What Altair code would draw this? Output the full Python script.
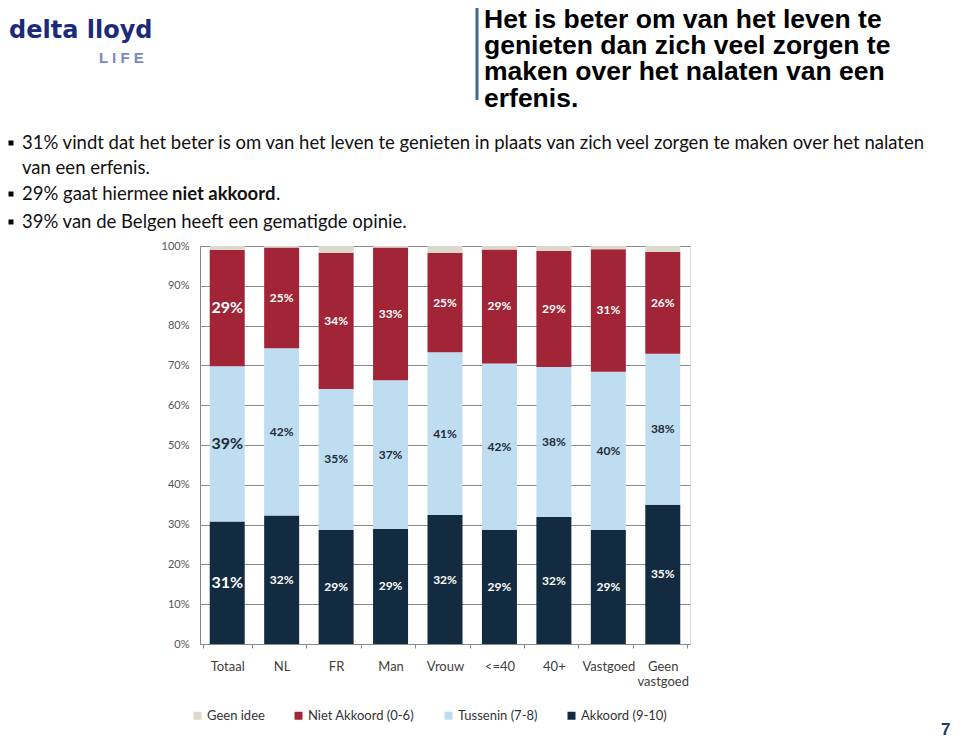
import altair as alt
import pandas as pd

# ---------------- data ----------------
cats = ["Totaal", "NL", "FR", "Man", "Vrouw", "<=40", "40+", "Vastgoed", "Geen vastgoed"]
akkoord = [30.8, 32.3, 28.7, 28.9, 32.4, 28.7, 31.9, 28.7, 35.0]
tussenin = [39.0, 42.0, 35.4, 37.4, 40.9, 41.8, 37.7, 39.7, 37.9]
niet_akkoord = [29.2, 25.3, 34.2, 33.3, 25.0, 28.6, 29.2, 30.8, 25.6]
geen_idee = [1.0, 0.4, 1.7, 0.4, 1.7, 0.9, 1.2, 0.8, 1.5]

series_names = ["Geen idee", "Niet Akkoord (0-6)", "Tussenin (7-8)", "Akkoord (9-10)"]
series_colors = ["#DDD8CC", "#A12437", "#BEDDF0", "#122B40"]
y_ticks = [0, 10, 20, 30, 40, 50, 60, 70, 80, 90, 100]

title_lines = [
    "Het is beter om van het leven te",
    "genieten dan zich veel zorgen te",
    "maken over het nalaten van een",
    "erfenis.",
]
bullet_lines = [
    "31% vindt dat het beter is om van het leven te genieten in plaats van zich veel zorgen te maken over het nalaten",
    "van een erfenis.",
]

# ---------------- table ----------------
stack = [("Akkoord (9-10)", akkoord, 1), ("Tussenin (7-8)", tussenin, 2),
         ("Niet Akkoord (0-6)", niet_akkoord, 3), ("Geen idee", geen_idee, 4)]
rows = []
for i, c in enumerate(cats):
    cum = 0.0
    for name, vals, o in stack:
        v = vals[i]
        rows.append(dict(
            cat=c, series=name, value=v, order=o, mid=cum + v / 2,
            label=(f"{round(v)}%" if name != "Geen idee" else ""),
            fs=(16 if c == "Totaal" else 12),
            light=(name == "Tussenin (7-8)"),
        ))
        cum += v
df = pd.DataFrame(rows)

FONT = "Lato"
yscale = alt.Scale(domain=[0, 100], nice=False)

x_axis = alt.Axis(labelAngle=0, labelFont=FONT, labelFontSize=13, labelColor="#404040",
                  labelPadding=12, tickBand="extent", tickSize=4, tickColor="#888",
                  domainColor="#888", grid=False,
                  labelExpr="datum.label == 'Geen vastgoed' ? ['Geen', 'vastgoed'] : datum.label")
y_axis = alt.Axis(values=y_ticks, labelExpr="datum.value + '%'", labelFont=FONT,
                  labelFontSize=11, labelColor="#555", ticks=False, labelPadding=11,
                  labelOverlap=False, grid=True, gridColor="#8a8a8a", domainColor="#888")

bars = alt.Chart(df).mark_bar(size=35).encode(
    x=alt.X("cat:N", sort=cats, title=None, axis=x_axis),
    y=alt.Y("value:Q", stack="zero", title=None, scale=yscale, axis=y_axis),
    color=alt.Color("series:N", scale=alt.Scale(domain=series_names, range=series_colors),
                    legend=alt.Legend(orient="none", legendX=-9, legendY=463, direction="horizontal",
                                      title=None, symbolType="square", symbolSize=64,
                                      symbolStrokeWidth=0, labelFont=FONT, labelFontSize=13,
                                      labelColor="#333", columnPadding=27, labelOffset=3)),
    order=alt.Order("order:Q"),
)

labels_white = alt.Chart(df).transform_filter("datum.label != '' && !datum.light").mark_text(
    font=FONT, fontWeight="bold", color="white").encode(
    x=alt.X("cat:N", sort=cats, title=None, axis=x_axis),
    y=alt.Y("mid:Q", scale=yscale, title=None, axis=y_axis), text="label:N",
    size=alt.Size("fs:Q", scale=None, legend=None))

labels_dark = alt.Chart(df).transform_filter("datum.light").mark_text(
    font=FONT, fontWeight="bold", color="#1E2A38").encode(
    x=alt.X("cat:N", sort=cats, title=None, axis=x_axis),
    y=alt.Y("mid:Q", scale=yscale, title=None, axis=y_axis), text="label:N",
    size=alt.Size("fs:Q", scale=None, legend=None))

# --------------- page annotations (positions relative to plot origin 200,246) ---------------
def txt(t, x, y, **kw):
    return alt.Chart(pd.DataFrame({"t": [t]})).mark_text(align="left", baseline="alphabetic", **kw).encode(
        text="t:N", x=alt.value(x), y=alt.value(y))

ann = []
# logo
ann.append(txt("delta lloyd", -191, -208, font="DejaVu Sans", fontWeight="bold", fontSize=24, color="#1B2B7A"))
ann.append(txt("L I F E", -101, -183, font="Liberation Sans", fontWeight="bold", fontSize=15, color="#7C86BE"))
# title bar + title (one multi-line text)
ann.append(alt.Chart(pd.DataFrame({"a": [0]})).mark_rule(color="#3F6A8A", strokeWidth=3).encode(
    x=alt.value(277), y=alt.value(-239), y2=alt.value(-146)))
ann.append(alt.Chart(pd.DataFrame({"a": [0]})).mark_text(
    text=title_lines, align="left", baseline="alphabetic", lineHeight=26.2,
    font="Liberation Sans", fontWeight="bold", fontSize=26.5, color="#000").encode(
    x=alt.value(284), y=alt.value(-218)))
# bullets
bullet_y = [-103, -52, -24]
for by in bullet_y:
    ann.append(alt.Chart(pd.DataFrame({"a": [0]})).mark_square(size=25, color="#000", opacity=1).encode(
        x=alt.value(-189), y=alt.value(by)))
BFS = 18.5
ann.append(txt(bullet_lines[0], -178, -97, font=FONT, fontSize=BFS, color="#111"))
ann.append(txt(bullet_lines[1], -178, -72, font=FONT, fontSize=BFS, color="#111"))
ann.append(txt("29% gaat hiermee", -178, -46, font=FONT, fontSize=BFS, color="#111"))
ann.append(txt("niet akkoord", -28, -46, font=FONT, fontSize=BFS, fontWeight="bold", color="#111"))
ann.append(txt(".", 76, -46, font=FONT, fontSize=BFS, color="#111"))
ann.append(txt("39% van de Belgen heeft een gematigde opinie.", -178, -18, font=FONT, fontSize=BFS, color="#111"))
# page number
ann.append(txt("7", 741, 489, font="Liberation Sans", fontWeight="bold", fontSize=17, color="#1F3B57"))

chart = alt.layer(bars, labels_white, labels_dark, *ann).properties(
    width=490, height=398,
    autosize=alt.AutoSizeParams(type="none"),
    padding={"left": 192, "top": 238, "right": 262, "bottom": 97},
).configure_view(stroke="#888", strokeWidth=1).configure(background="white")

chart.save("out.html", embed_options={"renderer": "svg", "actions": False})
